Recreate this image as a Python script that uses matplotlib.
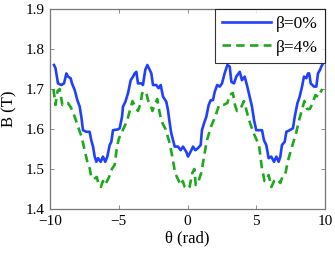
import matplotlib
matplotlib.use("Agg")
import matplotlib.pyplot as plt

plt.rcParams['font.family'] = ['Liberation Serif', 'DejaVu Serif']
plt.rcParams['mathtext.fontset'] = 'stix'

# beta = 0 %
x_b0 = [-9.71, -9.6, -9.42, -9.18, -8.98, -8.81, -8.69, -8.5, -8.4, -8.2, -8.01, -7.84,
        -7.72, -7.6, -7.36, -7.12, -7.0, -6.87, -6.75, -6.63, -6.51, -6.31, -6.15, -5.98,
        -5.83, -5.66, -5.54, -5.42, -5.05, -4.93, -4.76, -4.69, -4.52, -4.33, -4.13, -3.96,
        -3.84, -3.72, -3.6, -3.36, -3.24, -3.07, -2.92, -2.75, -2.63, -2.51, -2.27, -2.1,
        -1.95, -1.78, -1.54, -1.42, -1.29, -1.18, -0.93, -0.69, -0.5, -0.33, -0.09, 0.04,
        0.28, 0.4, 0.57, 0.76, 0.96, 1.05, 1.2, 1.37, 1.54, 1.69, 1.85, 1.98, 2.16, 2.34,
        2.51, 2.7, 2.9, 3.07, 3.19, 3.38, 3.55, 3.8, 3.96, 4.16, 4.35, 4.52, 4.69, 4.84,
        5.0, 5.25, 5.42, 5.56, 5.73, 5.9, 6.09, 6.29, 6.46, 6.63, 6.75, 6.87, 7.07, 7.19,
        7.43, 7.67, 7.8, 7.99, 8.16, 8.33, 8.47, 8.64, 8.76, 8.85, 8.96, 9.2, 9.37, 9.49,
        9.64, 9.73, 9.8]
y_b0 = [1.760, 1.752, 1.714, 1.710, 1.714, 1.739, 1.731, 1.727, 1.714, 1.697, 1.672, 1.656,
        1.630, 1.597, 1.593, 1.593, 1.572, 1.556, 1.531, 1.518, 1.527, 1.518, 1.531, 1.518,
        1.531, 1.560, 1.568, 1.597, 1.599, 1.602, 1.631, 1.656, 1.668, 1.689, 1.722, 1.731,
        1.739, 1.743, 1.714, 1.714, 1.710, 1.748, 1.760, 1.748, 1.739, 1.710, 1.710, 1.702,
        1.710, 1.681, 1.668, 1.647, 1.614, 1.589, 1.556, 1.556, 1.547, 1.556, 1.543, 1.531,
        1.547, 1.556, 1.547, 1.552, 1.560, 1.597, 1.614, 1.631, 1.660, 1.672, 1.672, 1.693,
        1.710, 1.706, 1.714, 1.739, 1.760, 1.756, 1.718, 1.714, 1.731, 1.743, 1.722, 1.731,
        1.706, 1.681, 1.656, 1.622, 1.597, 1.597, 1.597, 1.572, 1.560, 1.527, 1.531, 1.518,
        1.531, 1.518, 1.531, 1.560, 1.568, 1.593, 1.597, 1.602, 1.631, 1.664, 1.681, 1.706,
        1.731, 1.727, 1.739, 1.739, 1.714, 1.706, 1.706, 1.739, 1.748, 1.756, 1.760]

# beta = 4 %
x_b4 = [-9.75, -9.6, -9.45, -9.3, -9.1, -8.9, -8.7, -8.5, -8.3, -8.1, -7.9, -7.7, -7.5,
        -7.3, -7.1, -7.0, -6.8, -6.6, -6.45, -6.3, -6.15, -6.0, -5.85, -5.7, -5.5, -5.3,
        -5.15, -5.0, -4.8, -4.6, -4.4, -4.2, -4.0, -3.8, -3.6, -3.4, -3.3, -3.15, -3.0,
        -2.85, -2.7, -2.55, -2.4, -2.2, -2.05, -1.9, -1.6, -1.3, -1.1, -0.9, -0.7, -0.5,
        -0.35, -0.2, 0.0, 0.15, 0.35, 0.5, 0.6, 0.8, 1.0, 1.2, 1.4, 1.7, 2.0, 2.3, 2.6,
        2.9, 3.05, 3.3, 3.45, 3.6, 3.85, 4.1, 4.3, 4.45, 4.8, 5.0, 5.2, 5.4, 5.6, 5.75,
        5.9, 6.1, 6.3, 6.5, 6.75, 6.9, 7.1, 7.3, 7.55, 7.9, 8.1, 8.3, 8.5, 8.7, 8.9, 9.1,
        9.3, 9.5, 9.65, 9.8]
y_b4 = [1.700, 1.660, 1.695, 1.700, 1.660, 1.665, 1.665, 1.655, 1.640, 1.620, 1.600, 1.580,
        1.550, 1.520, 1.500, 1.480, 1.475, 1.480, 1.460, 1.455, 1.470, 1.460, 1.470, 1.480,
        1.500, 1.510, 1.550, 1.575, 1.590, 1.605, 1.620, 1.645, 1.670, 1.655, 1.645, 1.665,
        1.690, 1.685, 1.690, 1.670, 1.660, 1.645, 1.660, 1.675, 1.645, 1.620, 1.600, 1.565,
        1.530, 1.490, 1.475, 1.460, 1.470, 1.455, 1.450, 1.455, 1.490, 1.500, 1.460, 1.470,
        1.490, 1.530, 1.570, 1.605, 1.630, 1.660, 1.660, 1.665, 1.685, 1.690, 1.660, 1.645,
        1.650, 1.670, 1.645, 1.625, 1.590, 1.575, 1.560, 1.505, 1.470, 1.470, 1.485, 1.455,
        1.470, 1.475, 1.465, 1.480, 1.485, 1.520, 1.550, 1.590, 1.620, 1.645, 1.670, 1.650,
        1.650, 1.665, 1.685, 1.680, 1.690, 1.700]

labels = ['β=0%', 'β=4%']
x_ticks = [-10, -5, 0, 5, 10]
y_ticks = [1.4, 1.5, 1.6, 1.7, 1.8, 1.9]

fig = plt.figure(figsize=(3.35, 2.54), dpi=100)
ax = fig.add_axes([50/335, 1 - 209/254, 275/335, 200/254])

ax.plot(x_b0, y_b0, color='#2040ff', lw=1.9, label=labels[0])
ax.plot(x_b4, y_b4, color='#1ea81e', lw=1.9, dashes=(3.2, 2.0), label=labels[1])

ax.set_xlim(-10, 10)
ax.set_ylim(1.4, 1.9)
ax.set_xticks(x_ticks)
ax.set_yticks(y_ticks)
ax.set_xticklabels(['\u221210', '\u22125', '0', '5', '10'])
ax.set_yticklabels(['1.4', '1.5', '1.6', '1.7', '1.8', '1.9'])
ax.tick_params(direction='in', top=True, right=True, length=3, width=0.6,
               labelsize=11, colors='#777777', labelcolor='black')
ax.tick_params(axis='y', pad=4)
ax.tick_params(axis='x', pad=4)
for s in ax.spines.values():
    s.set_color('#777777')
    s.set_linewidth(0.9)

ax.set_xlabel('θ (rad)', fontsize=12, labelpad=2)
ax.set_ylabel('B (T)', fontsize=12, labelpad=6)

leg = ax.legend(loc='upper right', fontsize=12.5, handlelength=2.8, frameon=True,
                fancybox=False, edgecolor='black', borderaxespad=0.0,
                borderpad=0.42, labelspacing=0.4, handletextpad=0.3)
leg.get_frame().set_linewidth(0.8)

fig.savefig('out.png', dpi=100)
